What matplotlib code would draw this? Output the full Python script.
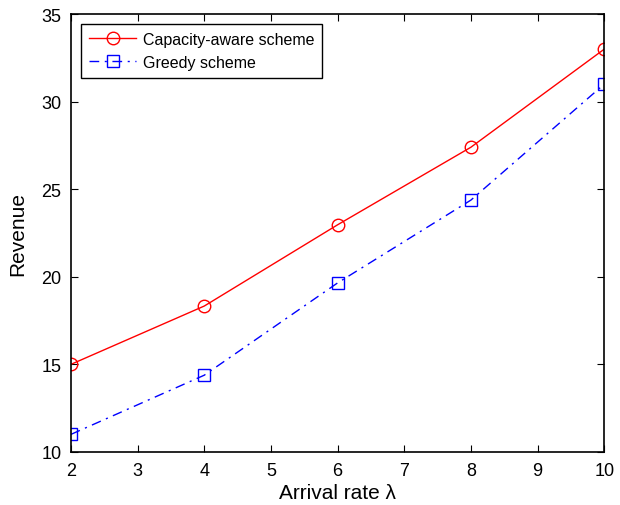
import matplotlib.pyplot as plt

plt.rcParams['font.family'] = ['Liberation Sans', 'DejaVu Sans']

arrival_rate = [2, 4, 6, 8, 10]
capacity_aware = [15.0, 18.33, 22.97, 27.4, 33.0]
greedy = [11.0, 14.38, 19.65, 24.38, 31.0]

fig = plt.figure(figsize=(6.2, 5.06), dpi=100)
ax = fig.add_axes([0.1145, 0.105, 0.86, 0.865])

ax.plot(arrival_rate, capacity_aware, color='red', linestyle='-', linewidth=1,
        marker='o', markersize=9, markerfacecolor='none', markeredgecolor='red',
        label='Capacity-aware scheme')
ax.plot(arrival_rate, greedy, color='blue', linestyle=(0, (7, 4, 1.5, 4)), linewidth=1,
        marker='s', markersize=9, markerfacecolor='none', markeredgecolor='blue',
        label='Greedy scheme')

ax.set_xlim(2, 10)
ax.set_ylim(10, 35)
ax.set_xticks(range(2, 11))
ax.set_yticks(range(10, 36, 5))
ax.tick_params(direction='in', top=True, right=True, labelsize=13, length=5, pad=7)
for s in ax.spines.values():
    s.set_linewidth(1.2)

ax.set_xlabel(u'Arrival rate \u03bb', fontsize=15, labelpad=3)
ax.set_ylabel('Revenue', fontsize=15, labelpad=10)

leg = ax.legend(loc='upper left', fontsize=11.5, fancybox=False, framealpha=1,
                edgecolor='black', borderaxespad=0.6, handlelength=3,
                handletextpad=0.4, borderpad=0.5)
leg.get_frame().set_linewidth(1)

plt.savefig('out.png')
